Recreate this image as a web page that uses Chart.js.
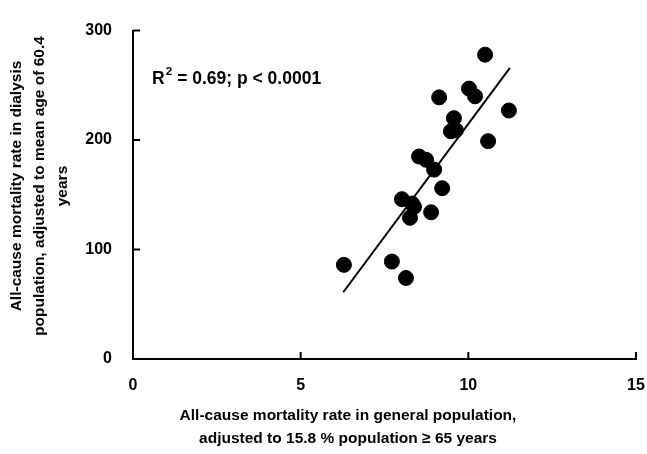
<!DOCTYPE html>
<html>
<head>
<meta charset="utf-8">
<script src="https://cdn.jsdelivr.net/npm/chart.js@4/dist/chart.umd.min.js"></script>
<style>
  html, body { margin: 0; padding: 0; background: #fff; }
  #wrap { width: 647px; height: 454px; }
</style>
</head>
<body>
<div id="wrap"><canvas id="myChart"></canvas></div>
<script>
// general population mortality (x) vs dialysis mortality (y), one per region
const generalRate = [6.29, 7.72, 8.14, 8.02, 8.32, 8.38, 8.26, 8.89, 9.22, 8.98, 8.53,
                     8.74, 9.48, 9.63, 9.57, 9.13, 10.02, 10.20, 10.50, 11.21, 10.59];
const dialysisRate = [86, 89, 74, 146, 142, 139, 129, 134, 156, 173, 185,
                      182, 208, 209, 220, 239, 247, 240, 278, 227, 199];

// ends of the regression line
const fitX = [6.27, 11.24];
const fitY = [61, 266];

const xTicks = [0, 5, 10, 15];
const yTicks = [0, 100, 200, 300];

const statsText = "= 0.69; p < 0.0001";
const xTitle = ["All-cause mortality rate in general population,",
                "adjusted to 15.8 % population \u2265 65 years"];
const yTitle = ["All-cause mortality rate in dialysis",
                "population, adjusted to mean age of 60.4",
                "years"];

const FONT = "'Liberation Sans', Arial, sans-serif";

const points = generalRate.map((x, i) => ({ x: x, y: dialysisRate[i] }));
const fitLine = fitX.map((x, i) => ({ x: x, y: fitY[i] }));

// ticks point inward in the original, so draw them by hand
const inwardTicks = {
    id: "inwardTicks",
    afterDraw(chart) {
        const ctx = chart.ctx;
        const xs = chart.scales.x;
        const ys = chart.scales.y;
        const area = chart.chartArea;
        ctx.save();
        ctx.strokeStyle = "#000";
        ctx.lineWidth = 2;
        ctx.beginPath();
        yTicks.forEach(v => {
            const py = ys.getPixelForValue(v);
            ctx.moveTo(area.left, py);
            ctx.lineTo(area.left + 7, py);
        });
        xTicks.forEach(v => {
            const px = xs.getPixelForValue(v);
            ctx.moveTo(px, area.bottom);
            ctx.lineTo(px, area.bottom - 7);
        });
        ctx.stroke();
        ctx.restore();
    }
};

// axis titles and the R2 note
const labelsPlugin = {
    id: "labelsPlugin",
    afterDraw(chart) {
        const ctx = chart.ctx;
        const xs = chart.scales.x;
        const ys = chart.scales.y;
        ctx.save();
        ctx.fillStyle = "#000";
        ctx.font = "bold 15.5px " + FONT;
        ctx.textAlign = "center";
        ctx.textBaseline = "middle";
        ctx.fillText(xTitle[0], 348, 416);
        ctx.fillText(xTitle[1], 348, 439);

        ctx.save();
        ctx.translate(0, 186);
        ctx.rotate(-Math.PI / 2);
        ctx.fillText(yTitle[0], 0, 17);
        ctx.fillText(yTitle[1], 0, 40);
        ctx.fillText(yTitle[2], 0, 63);
        ctx.restore();

        // R² with a raised 2
        const tx = xs.getPixelForValue(0.57);
        const ty = ys.getPixelForValue(256);
        ctx.textAlign = "left";
        ctx.font = "bold 17.5px " + FONT;
        ctx.fillText("R", tx, ty);
        const rw = ctx.measureText("R").width;
        ctx.font = "bold 11.5px " + FONT;
        ctx.fillText("2", tx + rw + 1, ty - 7);
        const sw = ctx.measureText("2").width;
        ctx.font = "bold 17.5px " + FONT;
        ctx.fillText(statsText, tx + rw + sw + 6, ty);
        ctx.restore();
    }
};

const ctx = document.getElementById("myChart").getContext("2d");
const chart = new Chart(ctx, {
    type: "scatter",
    data: {
        datasets: [{
            label: "regions",
            data: points,
            backgroundColor: "#000",
            borderColor: "#000",
            pointRadius: 7.5,
            pointHoverRadius: 7.5
        }, {
            label: "fit",
            type: "line",
            data: fitLine,
            borderColor: "#000",
            borderWidth: 2,
            pointRadius: 0,
            fill: false,
            showLine: true
        }]
    },
    plugins: [inwardTicks, labelsPlugin],
    options: {
        responsive: true,
        maintainAspectRatio: false,
        animation: false,
        events: [],
        layout: { padding: { left: 0, right: 0, top: 26, bottom: 0 } },
        plugins: {
            legend: { display: false },
            tooltip: { enabled: false }
        },
        scales: {
            x: {
                type: "linear",
                min: 0,
                max: 15,
                afterFit(scale) { scale.height = 95; scale.paddingRight = 11; },
                afterBuildTicks(scale) { scale.ticks = xTicks.map(v => ({ value: v })); },
                grid: { display: false, drawTicks: false },
                border: { display: true, color: "#000", width: 2 },
                ticks: {
                    color: "#000",
                    padding: 17,
                    font: { family: FONT, size: 16, weight: "bold" }
                }
            },
            y: {
                type: "linear",
                min: 0,
                max: 300,
                afterFit(scale) { scale.width = 133; },
                afterBuildTicks(scale) { scale.ticks = yTicks.map(v => ({ value: v })); },
                grid: { display: false, drawTicks: false },
                border: { display: true, color: "#000", width: 2 },
                ticks: {
                    color: "#000",
                    padding: 21,
                    font: { family: FONT, size: 16, weight: "bold" }
                }
            }
        }
    }
});
</script>
</body>
</html>
